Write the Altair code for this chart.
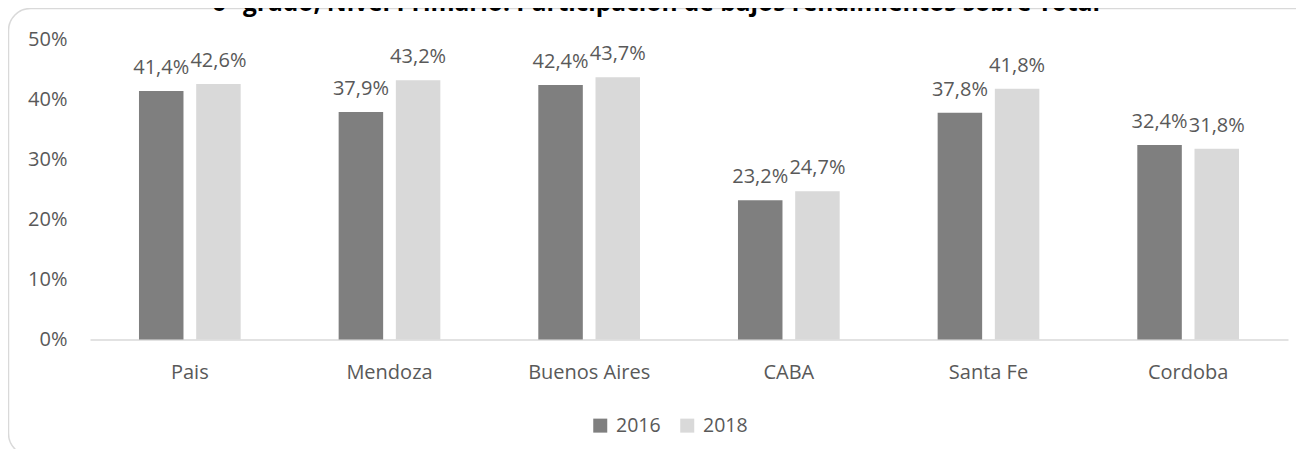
import altair as alt
import pandas as pd

categories = ["Pais", "Mendoza", "Buenos Aires", "CABA", "Santa Fe", "Cordoba"]
years = ["2016", "2018"]
values_2016 = [41.4, 37.9, 42.4, 23.2, 37.8, 32.4]
values_2018 = [42.6, 43.2, 43.7, 24.7, 41.8, 31.8]
y_ticks = [0, 10, 20, 30, 40, 50]
title_text = "6° grado, Nivel Primario: Participación de bajos rendimientos sobre Total"

rows = []
for i, c in enumerate(categories):
    rows.append({"cat": c, "year": "2016", "v": values_2016[i]})
    rows.append({"cat": c, "year": "2018", "v": values_2018[i]})
df = pd.DataFrame(rows)

FONT = "Open Sans"
TXT = "#595959"
W, H = 1198, 300

x = alt.X("cat:N", sort=categories, title=None,
          scale=alt.Scale(paddingInner=0.4906, paddingOuter=0.2453),
          axis=alt.Axis(labelAngle=0, ticks=False, tickSize=0, labelPadding=23,
                        labelFontSize=20, labelFont=FONT, labelColor=TXT,
                        domainColor="#d9d9d9", domainWidth=1.5, grid=False))
xo = alt.XOffset("year:N", sort=years,
                 scale=alt.Scale(paddingInner=0.222, paddingOuter=0))
y = alt.Y("v:Q", title=None,
          scale=alt.Scale(domain=[0, 50], nice=False),
          axis=alt.Axis(values=y_ticks, labelExpr="datum.value + '%'", ticks=False, tickSize=0,
                        domain=False, grid=False, labelPadding=23, labelFontSize=20,
                        labelFont=FONT, labelColor=TXT))
color = alt.Color("year:N", sort=years,
                  scale=alt.Scale(domain=years, range=["#7f7f7f", "#d9d9d9"]),
                  legend=alt.Legend(title=None, orient="none", direction="horizontal",
                                    legendX=500.5, legendY=376, symbolType="square",
                                    symbolSize=196, symbolStrokeWidth=0, labelOffset=6,
                                    columnPadding=16, labelFontSize=19.5, labelFont=FONT,
                                    labelColor=TXT))

base = alt.Chart(df)
bars = base.mark_bar().encode(x=x, xOffset=xo, y=y, color=color)
labels = base.transform_calculate(
    lab="replace(format(datum.v, '.1f'), '.', ',') + '%'"
).mark_text(baseline="alphabetic", dy=-17, fontSize=20, font=FONT, color=TXT).encode(
    x=x, xOffset=xo, y=y, text="lab:N")

frame = alt.Chart(pd.DataFrame({"a": [0]})).mark_rect(
    fill="transparent", stroke="#d9d9d9", strokeWidth=1.5, cornerRadius=22
).encode(x=alt.value(-81.5), x2=alt.value(1270), y=alt.value(-31), y2=alt.value(416))

title = alt.Chart(pd.DataFrame({"t": [title_text]})).mark_text(
    font=FONT, fontSize=24.5, fontWeight="bold", color="#000000", baseline="alphabetic", align="center"
).encode(x=alt.value(566), y=alt.value(-28.5), text="t:N")

chart = alt.layer(frame, bars, labels, title).properties(
    width=W, height=H,
    autosize=alt.AutoSizeParams(type="none"),
    padding={"left": 82, "top": 31.5, "right": 8, "bottom": 109.5},
).configure_view(stroke=None)

chart.save("out.html", embed_options={"renderer": "svg", "actions": False})
